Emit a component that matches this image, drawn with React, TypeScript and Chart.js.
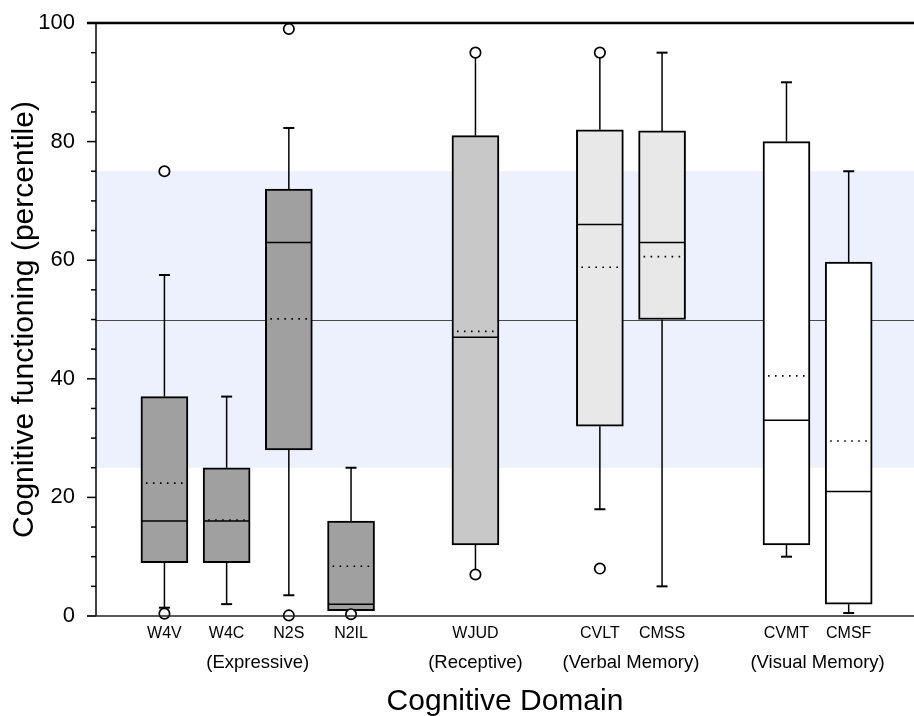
import React, { useEffect, useRef } from 'react';
import { Chart, registerables } from 'chart.js';

Chart.register(...registerables);

// ---------------- data ----------------
const measures = ['W4V', 'W4C', 'N2S', 'N2IL', 'WJUD', 'CVLT', 'CMSS', 'CVMT', 'CMSF'];
const groupNames = ['(Expressive)', '(Receptive)', '(Verbal Memory)', '(Visual Memory)'];
const groupSizes = [4, 1, 2, 2];

const q1 = [9, 9, 28, 0.9, 12, 32, 50, 12, 2];
const q3 = [37, 25, 72, 16, 81, 82, 81.8, 80, 59.7];
const medians = [16, 16, 63, 2, 47, 66, 63, 33, 21];
const means = [22.4, 16.2, 50.1, 8.4, 48, 58.8, 60.6, 40.5, 29.5];
const whiskerLow = [1.4, 2, 3.5, 0.9, 7, 18, 5, 10, 0.5];
const whiskerHigh = [57.5, 37, 82.3, 25, 95, 95, 95, 90, 75];
const outliers: number[][] = [[75, 0.4], [], [99, 0.1], [0.3], [95, 7], [95, 8], [], [], []];

const yTicks = [0, 20, 40, 60, 80, 100];
const normalBand = [25, 75];
const referenceLine = 50;

// ---------------- styles ----------------
const groupFills = ['#a0a0a0', '#c8c8c8', '#e8e8e8', '#ffffff'];
const BAND_COLOR = 'rgb(237,241,253)';
const FONT = '"Liberation Sans", Arial, Helvetica, sans-serif';
const BOX_W = 47;
const CAP_W = 11;

// slot positions derived from group structure (one empty slot between groups)
const groupOf: number[] = [];
const positions: number[] = [];
{
  let slot = 1;
  groupSizes.forEach((n, g) => {
    for (let k = 0; k < n; k++) {
      groupOf.push(g);
      positions.push(slot++);
    }
    slot++;
  });
}

const boxData = measures.map((_, i) => ({ x: positions[i], y: [q1[i], q3[i]] }));
const outlierData: { x: number; y: number }[] = [];
outliers.forEach((arr, i) => arr.forEach((v) => outlierData.push({ x: positions[i], y: v })));

const boxPlugin = {
  id: 'boxplotExtras',
  beforeDatasetsDraw(chart: any) {
    const { ctx, chartArea: a, scales } = chart;
    const x = scales.x, y = scales.y;
    ctx.save();
    // normal range band
    const yt = y.getPixelForValue(normalBand[1]);
    const yb = y.getPixelForValue(normalBand[0]);
    ctx.fillStyle = BAND_COLOR;
    ctx.fillRect(a.left, yt, a.right - a.left, yb - yt);
    // reference line
    const yr = Math.round(y.getPixelForValue(referenceLine)) + 0.5;
    ctx.strokeStyle = '#4a4a4a';
    ctx.lineWidth = 1;
    ctx.beginPath();
    ctx.moveTo(a.left, yr);
    ctx.lineTo(a.right, yr);
    ctx.stroke();
    // whiskers
    ctx.strokeStyle = '#000';
    measures.forEach((_, i) => {
      const px = x.getPixelForValue(positions[i]);
      const segs: [number, number][] = [[q3[i], whiskerHigh[i]], [q1[i], whiskerLow[i]]];
      segs.forEach(([from, to]) => {
        if (Math.abs(from - to) < 0.01) return;
        const p0 = y.getPixelForValue(from);
        const p1 = y.getPixelForValue(to);
        ctx.lineWidth = 1.5;
        ctx.beginPath();
        ctx.moveTo(px, p0);
        ctx.lineTo(px, p1);
        ctx.stroke();
        ctx.lineWidth = 2;
        ctx.beginPath();
        ctx.moveTo(px - CAP_W / 2, p1);
        ctx.lineTo(px + CAP_W / 2, p1);
        ctx.stroke();
      });
    });
    ctx.restore();
  },
  afterDatasetDraw(chart: any, args: any) {
    if (args.index !== 0) return;
    const { ctx, scales } = chart;
    const x = scales.x, y = scales.y;
    ctx.save();
    ctx.strokeStyle = '#000';
    measures.forEach((_, i) => {
      const px = x.getPixelForValue(positions[i]);
      const l = px - BOX_W / 2, r = px + BOX_W / 2;
      const pm = y.getPixelForValue(medians[i]);
      ctx.setLineDash([]);
      ctx.lineWidth = 1.5;
      ctx.beginPath();
      ctx.moveTo(l + 1, pm);
      ctx.lineTo(r - 1, pm);
      ctx.stroke();
      const pa = y.getPixelForValue(means[i]);
      ctx.setLineDash([1.6, 5.4]);
      ctx.lineWidth = 1.6;
      ctx.beginPath();
      ctx.moveTo(l + 5, pa);
      ctx.lineTo(r - 3, pa);
      ctx.stroke();
    });
    ctx.restore();
  },
  afterDraw(chart: any) {
    const { ctx, chartArea: a, scales } = chart;
    const x = scales.x, y = scales.y;
    ctx.save();
    // left axis
    ctx.strokeStyle = '#000';
    ctx.lineWidth = 1.5;
    ctx.beginPath();
    ctx.moveTo(a.left, y.getPixelForValue(100));
    ctx.lineTo(a.left, y.getPixelForValue(0));
    ctx.stroke();
    // tick marks
    for (let v = 0; v <= 100; v += 5) {
      const major = v % 20 === 0;
      const py = y.getPixelForValue(v);
      ctx.lineWidth = 1.5;
      ctx.beginPath();
      ctx.moveTo(a.left - (major ? 9 : 5), py);
      ctx.lineTo(a.left, py);
      ctx.stroke();
    }
    // top frame line
    ctx.lineWidth = 2.3;
    ctx.strokeStyle = '#000';
    ctx.beginPath();
    const ptop = y.getPixelForValue(100);
    ctx.moveTo(a.left - 9, ptop);
    ctx.lineTo(a.right, ptop);
    ctx.stroke();
    // bottom axis line
    ctx.lineWidth = 1.4;
    ctx.strokeStyle = '#222';
    ctx.beginPath();
    const pbot = y.getPixelForValue(0);
    ctx.moveTo(a.left - 9, pbot);
    ctx.lineTo(a.right, pbot);
    ctx.stroke();
    // group labels
    ctx.fillStyle = '#000';
    ctx.font = `18.5px ${FONT}`;
    ctx.textAlign = 'center';
    ctx.textBaseline = 'middle';
    groupNames.forEach((name, g) => {
      const idx = groupOf.map((gg, i) => (gg === g ? i : -1)).filter((i) => i >= 0);
      const c = (positions[idx[0]] + positions[idx[idx.length - 1]]) / 2;
      ctx.fillText(name, x.getPixelForValue(c), pbot + 47);
    });
    ctx.restore();
  },
};

export default function App() {
  const ref = useRef<HTMLCanvasElement>(null);
  useEffect(() => {
    if (!ref.current) return;
    Chart.defaults.font.family = FONT;
    Chart.defaults.color = '#000';
    const chart = new Chart(ref.current, {
      type: 'bar',
      data: {
        datasets: [
          {
            type: 'bar',
            data: boxData as any,
            backgroundColor: measures.map((_, i) => groupFills[groupOf[i]]),
            borderColor: '#000',
            borderWidth: 2,
            borderSkipped: false,
            barThickness: BOX_W,
            order: 1,
          } as any,
          {
            type: 'scatter',
            data: outlierData,
            pointRadius: 5.2,
            pointHoverRadius: 5.2,
            pointBackgroundColor: '#fff',
            pointBorderColor: '#000',
            pointBorderWidth: 1.7,
            clip: false,
            order: 0,
          } as any,
        ],
      },
      options: {
        responsive: false,
        animation: false,
        layout: { autoPadding: false, padding: { top: 23, right: 0, left: 0, bottom: 0 } },
        plugins: { legend: { display: false }, tooltip: { enabled: false } },
        scales: {
          x: {
            type: 'linear',
            min: -0.1,
            max: 13.05,
            offset: false,
            grid: { display: false, drawTicks: false, offset: false },
            border: { display: false },
            afterBuildTicks: (scale: any) => {
              scale.ticks = positions.map((p) => ({ value: p }));
            },
            afterFit: (scale: any) => {
              scale.height = 100;
              scale.paddingLeft = 0;
              scale.paddingRight = 0;
              scale.paddingTop = 0;
              scale.paddingBottom = 0;
            },
            ticks: {
              autoSkip: false,
              maxRotation: 0,
              padding: 8,
              font: { size: 16 },
              color: '#000',
              callback: (v: any) => {
                const i = positions.indexOf(Number(v));
                return i >= 0 ? measures[i] : '';
              },
            },
            title: {
              display: true,
              text: 'Cognitive Domain',
              font: { size: 30, lineHeight: 1 },
              padding: { top: 0, bottom: -1 },
              color: '#000',
            },
          },
          y: {
            type: 'linear',
            min: 0,
            max: 100,
            grid: { display: false, drawTicks: false },
            border: { display: false },
            afterBuildTicks: (scale: any) => {
              scale.ticks = yTicks.map((v) => ({ value: v }));
            },
            afterFit: (scale: any) => {
              scale.width = 96;
              scale.paddingLeft = 0;
              scale.paddingRight = 0;
              scale.paddingTop = 0;
              scale.paddingBottom = 0;
            },
            ticks: { padding: 21, font: { size: 22 }, color: '#000' },
            title: {
              display: true,
              text: 'Cognitive functioning (percentile)',
              font: { size: 30 },
              padding: { top: 7, bottom: 0 },
              color: '#000',
            },
          },
        },
      },
      plugins: [boxPlugin],
    } as any);
    return () => chart.destroy();
  }, []);
  return (
    <div style={{ position: 'absolute', left: 0, top: 0, width: 914, height: 716 }}>
      <canvas ref={ref} width={914} height={716} style={{ display: 'block' }} />
    </div>
  );
}
